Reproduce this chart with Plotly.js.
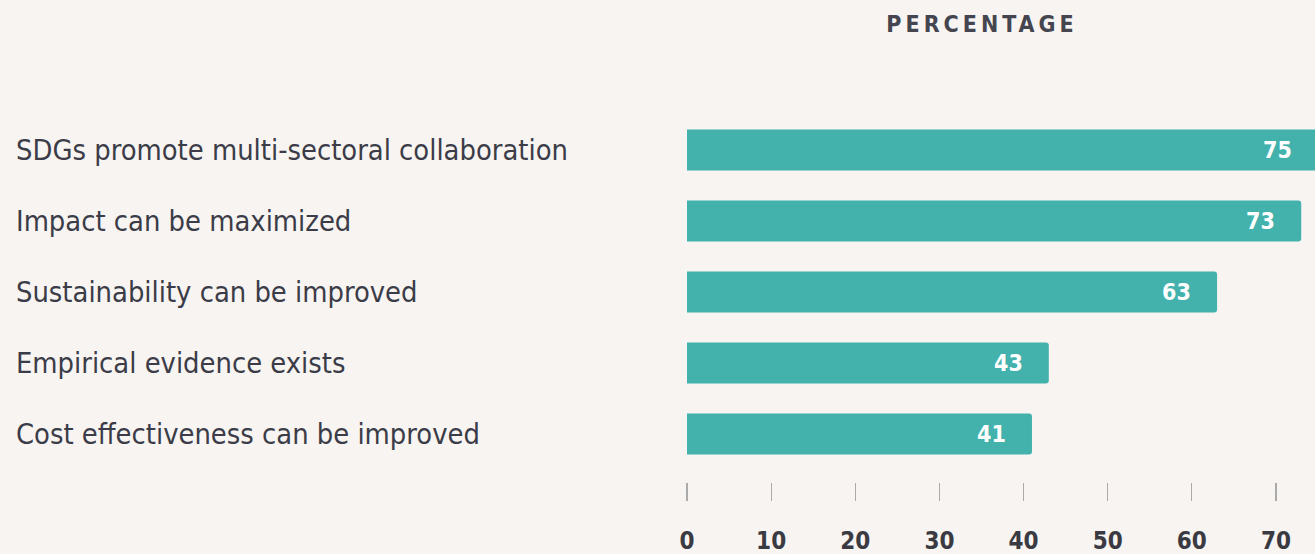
<!DOCTYPE html>
<html>
<head>
<meta charset="utf-8">
<script src="https://cdn.plot.ly/plotly-3.0.1.min.js"></script>
<style>
  html, body { margin: 0; padding: 0; background: #f7f4f1; overflow: hidden; }
  #chart { width: 1330px; height: 554px; }
  .gtitle { letter-spacing: 4px; }
</style>
</head>
<body>
<div id="chart"></div>
<script>
const categories = [
  "SDGs promote multi-sectoral collaboration",
  "Impact can be maximized",
  "Sustainability can be improved",
  "Empirical evidence exists",
  "Cost effectiveness can be improved"
];
const values = [75, 73, 63, 43, 41];
const tickValues = [0, 10, 20, 30, 40, 50, 60, 70];
const tickLabels = ["0", "10", "20", "30", "40", "50", "60", "70"];
const titleText = "PERCENTAGE";

const FONT = '"DejaVu Sans Condensed", "DejaVu Sans", sans-serif';
const TEAL = '#43b2ac';
const W = 1330;

const trace = {
  type: 'bar',
  orientation: 'h',
  x: values,
  y: categories,
  width: 0.58,
  marker: { color: TEAL, cornerradius: 3 },
  hoverinfo: 'none',
  cliponaxis: true
};

const annotations = [];
categories.forEach((c, i) => {
  annotations.push({
    x: values[i], y: c, xref: 'x', yref: 'y',
    text: '<b>' + values[i] + '</b>',
    showarrow: false, xanchor: 'right', xshift: -24,
    font: { family: FONT, size: 23, color: '#ffffff' }
  });
  annotations.push({
    x: 14 / W, y: c, xref: 'paper', yref: 'y',
    text: c, showarrow: false, xanchor: 'left',
    font: { family: FONT, size: 28.8, color: '#3b3c48' }
  });
});

const layout = {
  width: W, height: 554,
  paper_bgcolor: '#f7f4f1',
  plot_bgcolor: '#f7f4f1',
  margin: { l: 0, r: 0, t: 100, b: 72, pad: 0 },
  showlegend: false,
  title: {
    text: '<b>' + titleText + '</b>',
    x: 982 / W, xanchor: 'center', xref: 'container',
    y: 1 - 24 / 554, yanchor: 'middle', yref: 'container',
    font: { family: FONT, size: 23, color: '#45454f' }
  },
  xaxis: {
    domain: [687 / W, 1],
    range: [0, 76.42],
    tickmode: 'array',
    tickvals: tickValues,
    ticktext: tickLabels,
    ticks: 'outside',
    ticklen: 18,
    tickwidth: 1.2,
    tickcolor: '#aaaaaa',
    ticklabelstandoff: 19,
    showgrid: false,
    zeroline: false,
    showline: false,
    tickfont: { family: FONT, size: 24, color: '#3a3a42', weight: 'bold' },
    fixedrange: true
  },
  yaxis: {
    type: 'category',
    categoryorder: 'array',
    categoryarray: categories,
    range: [4.676, -0.704],
    showticklabels: false,
    ticks: '',
    showgrid: false,
    zeroline: false,
    showline: false,
    fixedrange: true
  },
  annotations: annotations
};

Plotly.newPlot('chart', [trace], layout, { displayModeBar: false, staticPlot: true });
</script>
</body>
</html>
